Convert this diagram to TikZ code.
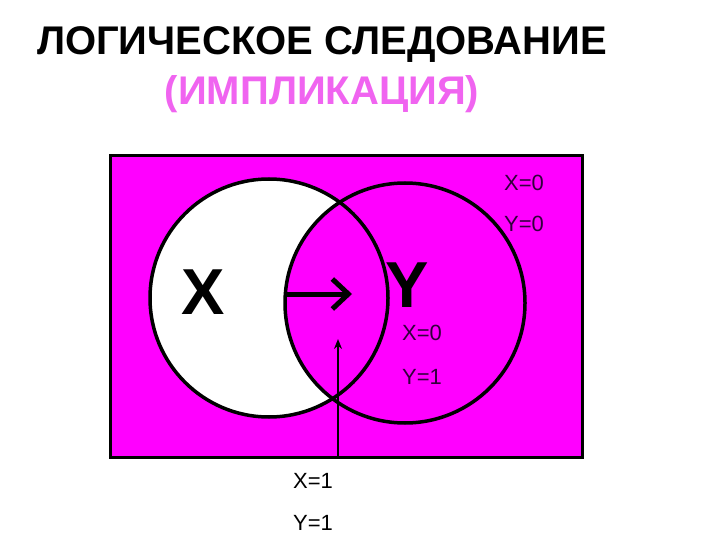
\documentclass[tikz,border=0pt]{standalone}
\usepackage{fontspec}
\setmainfont{Liberation Sans}
\usetikzlibrary{arrows.meta}
\definecolor{fuchsia}{RGB}{255,0,255}
\definecolor{pinktext}{RGB}{240,100,240}
\definecolor{valtext}{RGB}{50,0,60}

\begin{document}
\begin{tikzpicture}[x=1pt,y=-1pt,
  ring/.style={draw=black,line width=3.5pt},
  val/.style={font=\fontsize{22}{24}\selectfont,text=valtext,inner sep=0pt},
  setname/.style={font=\fontsize{65}{70}\selectfont\bfseries,inner sep=0pt},
  heading/.style={font=\fontsize{40}{44}\selectfont\bfseries,inner sep=0pt}]
\useasboundingbox (0,0) rectangle (720,540);
% universe and the two sets
\node[heading] (title) at (322,45) {ЛОГИЧЕСКОЕ СЛЕДОВАНИЕ};
\node[heading,text=pinktext] (subtitle) at (322,94) {(ИМПЛИКАЦИЯ)};
\fill[fuchsia] (110,156) rectangle (582,457);
\draw[black,line width=3pt] (110,156) rectangle (582,457);
\fill[white] (269,298) circle (119);
\fill[fuchsia] (405,303) circle (120);
\draw[ring] (269,298) circle (119);
\draw[ring] (405,303) circle (120);
% labels
\node[setname] (X) at (203,292) {X};
\node[setname] (Y) at (407,285) {Y};
\coordinate (impl-a) at (285,294);
\coordinate (impl-b) at (352,294);
\draw[line width=5pt,-{Straight Barb[length=16pt,width=30pt,line width=5pt]}] (impl-a) -- (impl-b);
\node[val] (x00) at (524,183) {X=0};
\node[val] (y00) at (524,224) {Y=0};
\node[val] (x01) at (422,333) {X=0};
\node[val] (y01) at (422,377) {Y=1};
\node[val,text=black] (x11) at (313,481) {X=1};
\node[val,text=black] (y11) at (313,523) {Y=1};
\coordinate (foot) at (338,457);
\coordinate (tip) at (338,339);
\draw[line width=2pt,-{Stealth[length=10pt,width=8pt]}] (foot) -- (tip);
\end{tikzpicture}
\end{document}
